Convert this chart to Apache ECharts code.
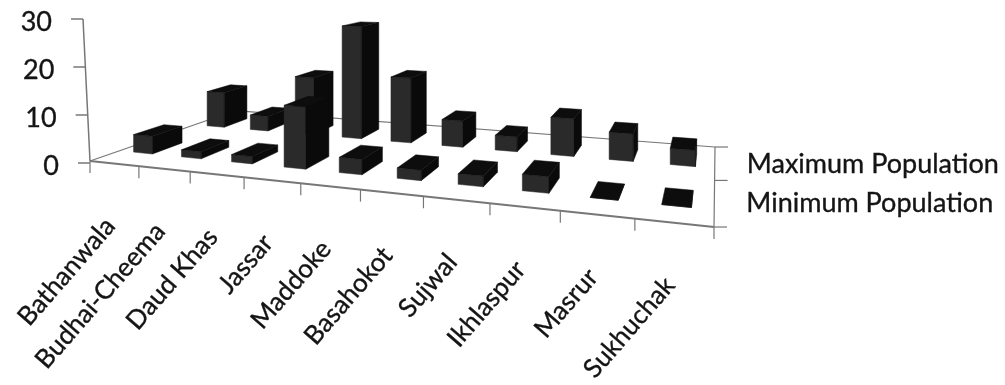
<!DOCTYPE html>
<html><head><meta charset="utf-8">
<style>html,body{margin:0;padding:0;background:#fff}#chart{width:1005px;height:385px;filter:blur(0.6px)}</style>
<script src="https://cdn.jsdelivr.net/npm/echarts@6/dist/echarts.min.js"></script>
</head><body><div id="chart"></div>
<script>
const categories = ['Bathanwala','Budhai-Cheema','Daud Khas','Jassar','Maddoke','Basahokot','Sujwal','Ikhlaspur','Masrur','Sukhuchak'];
const minimumPopulation = [3.8, 1.5, 1.5, 12.5, 3, 2, 2, 3, 0, 0];
const maximumPopulation = [8.5, 3.5, 13.5, 26, 14.7, 5.8, 3.2, 8, 5.7, 3.3];
const rowNames = ['Minimum Population','Maximum Population'];
const yTicks = [0,10,20,30];

// oblique view of the floor: left, right, far right, far left corners
const FL=[90,161], FR=[714,227], BR=[715,147], BL=[235,110.7];
const dx1=FR[0]-BR[0], dx2=BL[0]-BR[0], sx=FL[0]-FR[0]+BR[0]-BL[0];
const dy1=FR[1]-BR[1], dy2=BL[1]-BR[1], sy=FL[1]-FR[1]+BR[1]-BL[1];
const D=dx1*dy2-dx2*dy1;
const g=(sx*dy2-dx2*sy)/D, h=(dx1*sy-sx*dy1)/D;
const a=FR[0]-FL[0]+g*FR[0], b=BL[0]-FL[0]+h*BL[0], c=FL[0];
const d=FR[1]-FL[1]+g*FR[1], e=BL[1]-FL[1]+h*BL[1], f=FL[1];
function proj(t,s,v,unit){
  const w=g*t+h*s+1;
  return [(a*t+b*s+c)/w,(d*t+e*s+f)/w-(v||0)*unit/w];
}
const GRID={left:90,top:19,width:625,height:144};
const BAR_T=0.02, BAR_S=0.095;
const LINE='#777';
const INK='#141414';
const TEXT={fontFamily:'Lato',fill:INK,stroke:INK,lineWidth:0.35};

function barItem(rowS){
  return function(params,api){
    const i=api.value(0), v=api.value(1);
    const unit=api.coord([0,0])[1]-api.coord([0,1])[1];
    const band=api.size([1,0])[0];
    const tc=(api.coord([i,0])[0]-GRID.left)/GRID.width;
    const dt=band/GRID.width*BAR_T*10;
    const t0=tc-dt,t1=tc+dt,s0=rowS-BAR_S,s1=rowS+BAR_S;
    const A=proj(t0,s0,0,unit),B=proj(t1,s0,0,unit),C=proj(t1,s1,0,unit);
    const A2=proj(t0,s0,v,unit),B2=proj(t1,s0,v,unit),C2=proj(t1,s1,v,unit),E2=proj(t0,s1,v,unit);
    const poly=(pts,fill)=>({type:'polygon',shape:{points:pts},style:{fill,stroke:fill,lineWidth:0.5}});
    return {type:'group',children:[
      poly([A,B,B2,A2],'#2a2a2a'),
      poly([B,C,C2,B2],'#0a0a0a'),
      poly([A2,B2,C2,E2],'#0d0d0d')
    ]};
  };
}
function frameItem(params,api){
  const unit=api.coord([0,0])[1]-api.coord([0,1])[1];
  const line=(p,q,w,col)=>({type:'line',shape:{x1:p[0],y1:p[1],x2:q[0],y2:q[1]},style:{stroke:col||LINE,lineWidth:w||1.2}});
  const kids=[
    line(FL,BL),line(BL,BR),line(BR,FR),line(FL,FR,2),
    line(FL,[83,19],1.5)
  ];
  yTicks.forEach(tk=>{
    const p=[FL[0]-(FL[0]-83)*tk/30, api.coord([0,tk])[1]];
    kids.push(line([p[0]-12,p[1]],p,1.5));
    kids.push({type:'text',style:Object.assign({text:String(tk),x:p[0]-31,y:p[1]+3,align:'right',verticalAlign:'middle',fontSize:27},TEXT)});
  });
  categories.forEach((n,i)=>{
    const tk=proj(i/10,0,0,unit), tc=proj((i+.5)/10,0,0,unit);
    kids.push(line(tk,[tk[0],tk[1]+12]));
    kids.push({type:'text',rotation:49*Math.PI/180,x:tc[0]-4,y:tc[1]+58,style:Object.assign({text:n,x:0,y:0,align:'right',verticalAlign:'middle',fontSize:26},TEXT)});
  });
  const last=proj(1,0,0,unit);
  kids.push(line(last,[last[0],last[1]+12]));
  [0,.5,1].forEach(s=>{const p=proj(1,s,0,unit);kids.push(line(p,[p[0]+13,p[1]]));});
  rowNames.forEach((n,k)=>{
    const p=proj(1,(k+.5)/2,0,unit);
    kids.push({type:'text',style:Object.assign({text:n,x:p[0]+32,y:p[1]+2,align:'left',verticalAlign:'middle',fontSize:27},TEXT)});
  });
  return {type:'group',children:kids};
}
const chart=echarts.init(document.getElementById('chart'),null,{renderer:'canvas'});
chart.setOption({
  animation:false,
  grid:Object.assign({},GRID),
  xAxis:{type:'category',data:categories,show:false},
  yAxis:{type:'value',min:0,max:30,interval:10,show:false},
  series:[
    {type:'custom',name:'frame',data:[[0,0]],renderItem:frameItem,clip:false,silent:true,z:1},
    {type:'custom',name:rowNames[1],data:maximumPopulation.map((v,i)=>[i,v]),renderItem:barItem(0.76),clip:false,z:2},
    {type:'custom',name:rowNames[0],data:minimumPopulation.map((v,i)=>[i,v]),renderItem:barItem(0.26),clip:false,z:3}
  ]
});
</script></body></html>
